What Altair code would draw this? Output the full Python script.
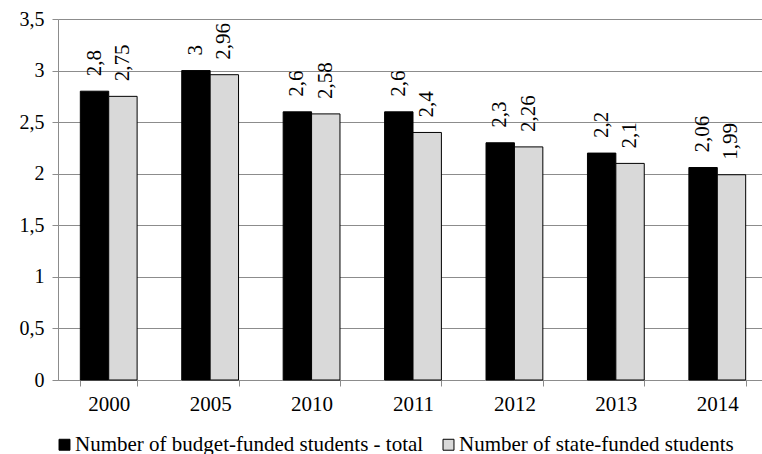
import altair as alt
import pandas as pd

years = ["2000", "2005", "2010", "2011", "2012", "2013", "2014"]
budget_total = [2.8, 3.0, 2.6, 2.6, 2.3, 2.2, 2.06]
state_funded = [2.75, 2.96, 2.58, 2.4, 2.26, 2.1, 1.99]
series_names = [
    "Number of budget-funded students - total",
    "Number of state-funded students",
]
series_colors = ["#000000", "#d9d9d9"]
y_ticks = [0, 0.5, 1, 1.5, 2, 2.5, 3, 3.5]

rows = []
for name, values in zip(series_names, [budget_total, state_funded]):
    for year, v in zip(years, values):
        rows.append({
            "year": year,
            "series": name,
            "value": v,
            "label": f"{v:g}".replace(".", ","),
        })
df = pd.DataFrame(rows)

FONT = "Liberation Serif, DejaVu Serif"
GRID = "#8c8c8c"

x_enc = alt.X(
    "year:N",
    sort=years,
    scale=alt.Scale(range=[0, 710], paddingInner=0.44, paddingOuter=0.22),
    axis=alt.Axis(
        title=None, labelAngle=0, tickBand="extent", tickSize=6,
        labelPadding=7, domainColor=GRID, tickColor=GRID, grid=False,
        labelFontSize=21, labelFont=FONT, labelColor="black",
    ),
)
xoff_enc = alt.XOffset("series:N", sort=series_names)
y_enc = alt.Y(
    "value:Q",
    scale=alt.Scale(domain=[0, 3.5], nice=False),
    axis=alt.Axis(
        title=None, values=y_ticks, grid=True, gridColor=GRID,
        domainColor=GRID, tickColor=GRID, tickSize=6, labelPadding=8,
        labelFontSize=20, labelFont=FONT, labelColor="black",
        labelExpr="replace(toString(datum.value), '.', ',')",
    ),
)

bars = alt.Chart(df).mark_bar(stroke="black", strokeWidth=1).encode(
    x=x_enc,
    xOffset=xoff_enc,
    y=y_enc,
    color=alt.Color(
        "series:N",
        sort=series_names,
        scale=alt.Scale(domain=series_names, range=series_colors),
        legend=alt.Legend(
            title=None, orient="none", legendX=-4, legendY=415,
            direction="horizontal", symbolType="square", symbolSize=120,
            symbolStrokeColor="black", symbolStrokeWidth=1,
            labelFontSize=21, labelFont=FONT, labelColor="black",
            labelLimit=0, columnPadding=14, labelOffset=0, padding=0,
        ),
    ),
)

labels = alt.Chart(df).mark_text(
    angle=270, align="left", baseline="middle", dx=15,
    fontSize=21, font=FONT, color="black",
).encode(
    x=alt.X("year:N", sort=years),
    xOffset=xoff_enc,
    y=alt.Y("value:Q"),
    text="label:N",
)

chart = (
    alt.layer(bars, labels)
    .properties(
        width=704,
        height=361,
        autosize=alt.AutoSizeParams(type="none"),
        padding={"left": 58, "top": 19, "right": 0, "bottom": 74},
    )
    .configure_view(stroke=None)
    .configure(background="white", font=FONT)
)

chart.save("out.html", embed_options={"renderer": "svg", "actions": False})
